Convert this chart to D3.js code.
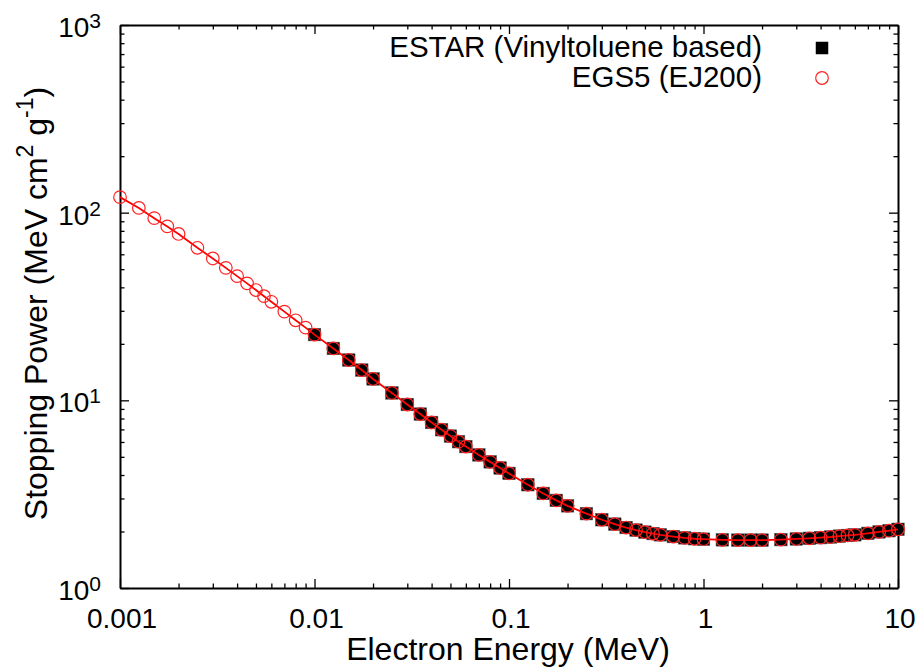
<!DOCTYPE html>
<html>
<head>
<meta charset="utf-8">
<script src="https://cdn.jsdelivr.net/npm/d3@7"></script>
<style>
  body { margin: 0; background: #fff; }
  text { font-family: "Liberation Sans", Arial, sans-serif; fill: #000; }
</style>
</head>
<body>
<div id="chart"></div>
<script>
// ESTAR (vinyltoluene based plastic scintillator), total stopping power
const estarEnergy = [0.01, 0.0125, 0.015, 0.0175, 0.02, 0.025, 0.03, 0.035, 0.04, 0.045, 0.05, 0.055, 0.06, 0.07, 0.08, 0.09,
  0.1, 0.125, 0.15, 0.175, 0.2, 0.25, 0.3, 0.35, 0.4, 0.45, 0.5, 0.55, 0.6, 0.7, 0.8, 0.9,
  1, 1.25, 1.5, 1.75, 2, 2.5, 3, 3.5, 4, 4.5, 5, 5.5, 6, 7, 8, 9, 10];
const estarPower = [22.4, 18.9, 16.4, 14.5, 13.0, 10.95, 9.5, 8.45, 7.62, 6.97, 6.45, 6.02, 5.67, 5.12, 4.70, 4.36,
  4.08, 3.55, 3.19, 2.93, 2.74, 2.49, 2.31, 2.19, 2.10, 2.035, 1.985, 1.95, 1.92, 1.88, 1.85, 1.83,
  1.82, 1.805, 1.80, 1.80, 1.80, 1.81, 1.825, 1.84, 1.855, 1.87, 1.89, 1.905, 1.92, 1.955, 1.99, 2.02, 2.055];

// EGS5 (EJ200)
const egsEnergy = [0.001, 0.00125, 0.0015, 0.00175, 0.002, 0.0025, 0.003, 0.0035, 0.004, 0.0045, 0.005, 0.0055, 0.006, 0.007, 0.008, 0.009,
  0.01, 0.0125, 0.015, 0.0175, 0.02, 0.025, 0.03, 0.035, 0.04, 0.045, 0.05, 0.055, 0.06, 0.07, 0.08, 0.09,
  0.1, 0.125, 0.15, 0.175, 0.2, 0.25, 0.3, 0.35, 0.4, 0.45, 0.5, 0.55, 0.6, 0.7, 0.8, 0.9,
  1, 1.25, 1.5, 1.75, 2, 2.5, 3, 3.5, 4, 4.5, 5, 5.5, 6, 7, 8, 9, 10];
const egsPower = [121, 106, 93.5, 84.5, 77, 65.0, 57.0, 50.8, 45.9, 42.0, 38.7, 35.9, 33.5, 29.7, 26.7, 24.4,
  22.4, 18.9, 16.4, 14.5, 13.0, 10.95, 9.5, 8.45, 7.62, 6.97, 6.45, 6.02, 5.67, 5.12, 4.70, 4.36,
  4.08, 3.55, 3.19, 2.93, 2.74, 2.49, 2.31, 2.19, 2.10, 2.035, 1.985, 1.95, 1.92, 1.88, 1.85, 1.83,
  1.82, 1.805, 1.80, 1.80, 1.80, 1.81, 1.825, 1.84, 1.855, 1.87, 1.89, 1.905, 1.92, 1.955, 1.99, 2.02, 2.055];

const xTicks = [0.001, 0.01, 0.1, 1, 10];
const xTickLabels = ["0.001", "0.01", "0.1", "1", "10"];
const yTickExponents = [0, 1, 2, 3];
const seriesNames = ["ESTAR (Vinyltoluene based)", "EGS5 (EJ200)"];

const width = 923, height = 670;
const margin = { left: 120, right: 25, top: 25, bottom: 82 };
const w = width - margin.left - margin.right;
const h = height - margin.top - margin.bottom;

const svg = d3.select("#chart").append("svg")
  .attr("width", width)
  .attr("height", height);

const g = svg.append("g").attr("transform", `translate(${margin.left},${margin.top})`);

const x = d3.scaleLog().domain([0.001, 10]).range([0, w]);
const y = d3.scaleLog().domain([1, 1000]).range([h, 0]);

// minor tick values 2..9 in every decade
const minorX = [];
[0.001, 0.01, 0.1, 1].forEach(d => { for (let k = 2; k <= 9; k++) minorX.push(d * k); });
const minorY = [];
[1, 10, 100].forEach(d => { for (let k = 2; k <= 9; k++) minorY.push(d * k); });

const majorLen = 9, minorLen = 4.5;

function tickAxis(axis, values, len) {
  return axis.tickValues(values).tickSizeInner(-len).tickSizeOuter(0).tickFormat("");
}

// ticks point inward, mirrored on top and right
const axes = [
  [d3.axisBottom(x), xTicks, minorX, `translate(0,${h})`],
  [d3.axisTop(x), xTicks, minorX, "translate(0,0)"],
  [d3.axisLeft(y), yTickExponents.map(e => Math.pow(10, e)), minorY, "translate(0,0)"],
  [d3.axisRight(y), yTickExponents.map(e => Math.pow(10, e)), minorY, `translate(${w},0)`]
];
axes.forEach(([axisFn, major, minor, tr]) => {
  g.append("g").attr("transform", tr).call(tickAxis(axisFn, minor, minorLen))
    .call(s => s.select(".domain").remove());
  g.append("g").attr("transform", tr).call(tickAxis(axisFn, major, majorLen))
    .call(s => s.select(".domain").attr("stroke-width", 2));
});
g.selectAll(".tick line").attr("stroke", "#000").attr("stroke-width", 1.3);

// x tick labels
g.selectAll("text.xlab")
  .data(xTicks)
  .enter()
  .append("text")
  .attr("class", "xlab")
  .attr("x", d => x(d) + 2)
  .attr("y", h + 40)
  .attr("text-anchor", "middle")
  .style("font-size", "28px")
  .text((d, i) => xTickLabels[i]);

// y tick labels 10^n
const ylab = g.selectAll("text.ylab")
  .data(yTickExponents)
  .enter()
  .append("text")
  .attr("class", "ylab")
  .attr("x", -19)
  .attr("y", d => y(Math.pow(10, d)) + 12)
  .attr("text-anchor", "end")
  .style("font-size", "28px");
ylab.append("tspan").text("10");
ylab.append("tspan").attr("dy", -9).style("font-size", "21px").text(d => d);

// axis titles
g.append("text")
  .attr("x", 508 - margin.left)
  .attr("y", h + 72)
  .attr("text-anchor", "middle")
  .style("font-size", "32px")
  .text("Electron Energy (MeV)");

const yt = g.append("text")
  .attr("transform", `translate(${47 - margin.left},${h / 2 - 3}) rotate(-90)`)
  .attr("text-anchor", "middle")
  .style("font-size", "32px");
yt.append("tspan").text("Stopping Power (MeV cm");
yt.append("tspan").attr("dy", -14).style("font-size", "23px").text("2");
yt.append("tspan").attr("dy", 14).text(" g");
yt.append("tspan").attr("dy", -14).style("font-size", "23px").text("-1");
yt.append("tspan").attr("dy", 14).text(")");

// ESTAR squares
const sq = 12.5;
g.append("g").selectAll("rect")
  .data(estarEnergy.map((e, i) => [e, estarPower[i]]))
  .enter()
  .append("rect")
  .attr("x", d => x(d[0]) - sq / 2)
  .attr("y", d => y(d[1]) - sq / 2)
  .attr("width", sq)
  .attr("height", sq)
  .attr("fill", "#000")
  .attr("stroke", "#555")
  .attr("stroke-width", 0.6);

// EGS5 line and circles
const egsData = egsEnergy.map((e, i) => [e, egsPower[i]]);
g.append("path")
  .datum(egsData)
  .attr("fill", "none")
  .attr("stroke", "#f00")
  .attr("stroke-width", 1.8)
  .attr("d", d3.line().x(d => x(d[0])).y(d => y(d[1])));

g.append("g").selectAll("circle")
  .data(egsData)
  .enter()
  .append("circle")
  .attr("cx", d => x(d[0]))
  .attr("cy", d => y(d[1]))
  .attr("r", 6.3)
  .attr("fill", "none")
  .attr("stroke", "#f22")
  .attr("stroke-width", 1.2);

// legend
const lx = 822 - margin.left;
const legend = g.append("g");
legend.append("text")
  .attr("x", 762 - margin.left)
  .attr("y", 57 - margin.top)
  .attr("text-anchor", "end")
  .style("font-size", "29.5px")
  .text(seriesNames[0]);
legend.append("rect")
  .attr("x", lx - sq / 2)
  .attr("y", 48 - margin.top - sq / 2)
  .attr("width", sq)
  .attr("height", sq)
  .attr("fill", "#000");
legend.append("text")
  .attr("x", 762 - margin.left)
  .attr("y", 87 - margin.top)
  .attr("text-anchor", "end")
  .style("font-size", "29.5px")
  .text(seriesNames[1]);
legend.append("circle")
  .attr("cx", lx)
  .attr("cy", 78 - margin.top)
  .attr("r", 6.3)
  .attr("fill", "none")
  .attr("stroke", "#f22")
  .attr("stroke-width", 1.2);
</script>
</body>
</html>
